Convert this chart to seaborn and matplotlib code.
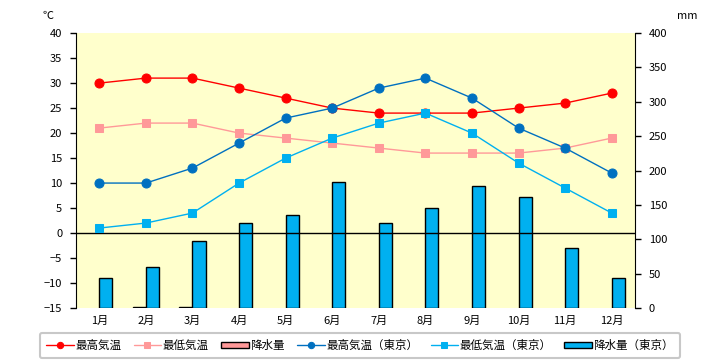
import numpy as np
import pandas as pd
import seaborn as sns
import matplotlib.pyplot as plt

# data
months = ["1月", "2月", "3月", "4月", "5月", "6月", "7月", "8月", "9月", "10月", "11月", "12月"]
max_temp = [30, 31, 31, 29, 27, 25, 24, 24, 24, 25, 26, 28]
min_temp = [21, 22, 22, 20, 19, 18, 17, 16, 16, 16, 17, 19]
rain = [np.nan, 1, 1, np.nan, np.nan, np.nan, np.nan, np.nan, np.nan, np.nan, np.nan, np.nan]
tokyo_max = [10, 10, 13, 18, 23, 25, 29, 31, 27, 21, 17, 12]
tokyo_min = [1, 2, 4, 10, 15, 19, 22, 24, 20, 14, 9, 4]
tokyo_rain = [43, 59, 98, 123, 136, 184, 124, 146, 178, 162, 88, 44]

sns.set_style("white")
plt.rcParams["font.family"] = ["Noto Sans CJK JP", "DejaVu Sans"]
plt.rcParams["text.color"] = "black"
plt.rcParams["xtick.color"] = "black"
plt.rcParams["ytick.color"] = "black"

pos = np.arange(len(months))
rain_df = pd.DataFrame({
    "pos": np.concatenate([pos, pos]),
    "mm": rain + tokyo_rain,
    "series": ["降水量"] * 12 + ["降水量（東京）"] * 12,
})

fig = plt.figure(figsize=(7.2, 3.6), dpi=100)
ax = fig.add_axes([0.1056, 0.1444, 0.7764, 0.7636])
ax2 = ax.twinx()

#%% bars on the mm axis
sns.barplot(data=rain_df, x="pos", y="mm", hue="series", ax=ax2,
            hue_order=["降水量", "降水量（東京）"],
            palette=["#FF9999", "#00B0F0"], width=0.56, gap=0,
            edgecolor="black", linewidth=1, saturation=1)
bar_handles, bar_labels = ax2.get_legend_handles_labels()
ax2.get_legend().remove()
ax2.set_ylim(0, 400)
ax2.set_yticks(range(0, 401, 50))
ax2.set_ylabel("")
ax2.set_xlabel("")
ax2.patch.set_visible(True)
ax2.set_facecolor("#FFFFCC")

#%% lines on the °C axis
ax.set_zorder(ax2.get_zorder() + 1)
ax.patch.set_visible(False)
ax.axhline(0, color="black", lw=1, zorder=1)
sns.lineplot(x=pos, y=max_temp, ax=ax, color="#FF0000", lw=1, marker="o",
             markersize=6.5, markeredgecolor="#FF0000", label="最高気温")
sns.lineplot(x=pos, y=min_temp, ax=ax, color="#FF9999", lw=1, marker="s",
             markersize=6, markeredgecolor="#FF9999", label="最低気温")
sns.lineplot(x=pos, y=tokyo_max, ax=ax, color="#0070C0", lw=1, marker="o",
             markersize=6.5, markeredgecolor="#0070C0", label="最高気温（東京）")
sns.lineplot(x=pos, y=tokyo_min, ax=ax, color="#00B0F0", lw=1, marker="s",
             markersize=6, markeredgecolor="#00B0F0", label="最低気温（東京）")
line_handles, line_labels = ax.get_legend_handles_labels()
ax.get_legend().remove()

ax.set_ylim(-15, 40)
ax.set_yticks(range(-15, 41, 5))
ax.set_xlim(-0.5, 11.5)
ax.set_xticks(pos, months)

for a in (ax, ax2):
    for s in ("top", "bottom"):
        a.spines[s].set_visible(False)
    a.spines["left"].set_color("black")
    a.spines["right"].set_color("black")
    a.tick_params(axis="y", labelsize=8, length=4, width=1, color="black", pad=6)
    a.tick_params(axis="x", labelsize=8, length=0, pad=6)
ax.spines["right"].set_visible(False)
ax2.spines["left"].set_visible(False)
ax.tick_params(axis="y", left=True)
ax2.tick_params(axis="y", right=True)

fig.text(0.067, 0.955, "℃", fontsize=8, ha="center", va="center")
fig.text(0.955, 0.955, "mm", fontsize=8, ha="center", va="center")

handles = [line_handles[0], line_handles[1], bar_handles[0],
           line_handles[2], line_handles[3], bar_handles[1]]
labels = [line_labels[0], line_labels[1], bar_labels[0],
          line_labels[2], line_labels[3], bar_labels[1]]
leg = fig.legend(handles, labels, loc="center", bbox_to_anchor=(0.5, 0.04),
                 ncol=6, fontsize=8.3, frameon=True, fancybox=True,
                 edgecolor="#BBBBBB", handlelength=2.4, handleheight=0.5,
                 handletextpad=0.15, columnspacing=1.05, borderpad=0.55,
                 markerscale=0.7)
leg.get_frame().set_linewidth(1.5)

fig.savefig("out.png", dpi=100)
